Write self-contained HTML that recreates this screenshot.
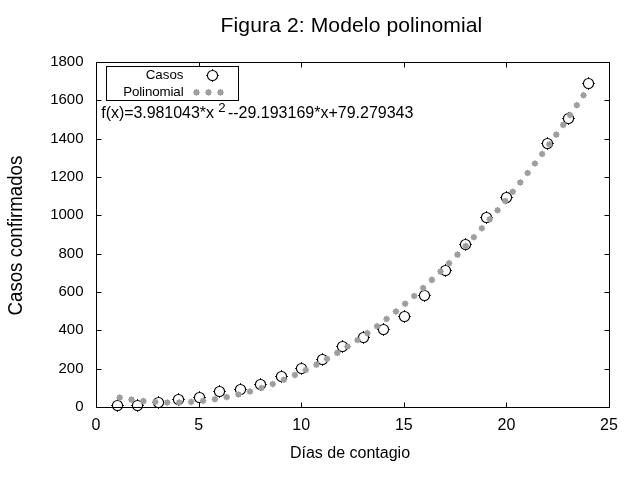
<!DOCTYPE html><html><head><meta charset="utf-8"><title>Figura 2: Modelo polinomial</title><style>html,body{margin:0;padding:0;background:#fff}svg{display:block}text{font-family:"Liberation Sans",Arial,sans-serif;fill:#000}</style></head><body>
<svg width="640" height="480" viewBox="0 0 640 480">
<rect width="640" height="480" fill="#fff"/>
<text x="351.5" y="31.7" font-size="21.1" letter-spacing="0.1" text-anchor="middle">Figura 2: Modelo polinomial</text>
<text x="83.5" y="410.90" font-size="15" text-anchor="end">0</text>
<text x="83.5" y="372.57" font-size="15" text-anchor="end">200</text>
<text x="83.5" y="334.23" font-size="15" text-anchor="end">400</text>
<text x="83.5" y="295.90" font-size="15" text-anchor="end">600</text>
<text x="83.5" y="257.57" font-size="15" text-anchor="end">800</text>
<text x="83.5" y="219.23" font-size="15" text-anchor="end">1000</text>
<text x="83.5" y="180.90" font-size="15" text-anchor="end">1200</text>
<text x="83.5" y="142.57" font-size="15" text-anchor="end">1400</text>
<text x="83.5" y="104.23" font-size="15" text-anchor="end">1600</text>
<text x="83.5" y="65.90" font-size="15" text-anchor="end">1800</text>
<text x="96.00" y="429.8" font-size="16" text-anchor="middle">0</text>
<text x="198.60" y="429.8" font-size="16" text-anchor="middle">5</text>
<text x="301.20" y="429.8" font-size="16" text-anchor="middle">10</text>
<text x="403.80" y="429.8" font-size="16" text-anchor="middle">15</text>
<text x="506.40" y="429.8" font-size="16" text-anchor="middle">20</text>
<text x="609.00" y="429.8" font-size="16" text-anchor="middle">25</text>
<path d="M96.5 407.5h5M609.5 407.5h-5M96.5 369.5h5M609.5 369.5h-5M96.5 330.5h5M609.5 330.5h-5M96.5 292.5h5M609.5 292.5h-5M96.5 254.5h5M609.5 254.5h-5M96.5 215.5h5M609.5 215.5h-5M96.5 177.5h5M609.5 177.5h-5M96.5 139.5h5M609.5 139.5h-5M96.5 100.5h5M609.5 100.5h-5M96.5 62.5h5M609.5 62.5h-5M96.5 407.5v-5M96.5 62.5v5M199.5 407.5v-5M199.5 62.5v5M301.5 407.5v-5M301.5 62.5v5M404.5 407.5v-5M404.5 62.5v5M506.5 407.5v-5M506.5 62.5v5M609.5 407.5v-5M609.5 62.5v5" stroke="#000" stroke-width="1" fill="none"/>
<rect x="96.5" y="62.5" width="513.0" height="345.0" fill="none" stroke="#000" stroke-width="1"/>
<rect x="106.5" y="66.5" width="132" height="34" fill="#fff" stroke="#000" stroke-width="1"/>
<text x="183.5" y="78.6" font-size="13.33" text-anchor="end">Casos</text>
<text x="183.5" y="95.6" font-size="13.33" letter-spacing="-0.12" text-anchor="end">Polinomial</text>
<g fill="none" stroke="#000" stroke-width="1.1"><circle cx="117.50" cy="405.50" r="5.05"/><path stroke-width="1" d="M111.15 405.50h1.3M122.55 405.50h1.3M117.50 399.15v1.3M117.50 410.55v1.3"/><circle cx="137.50" cy="405.50" r="5.05"/><path stroke-width="1" d="M131.15 405.50h1.3M142.55 405.50h1.3M137.50 399.15v1.3M137.50 410.55v1.3"/><circle cx="158.50" cy="402.50" r="5.05"/><path stroke-width="1" d="M152.15 402.50h1.3M163.55 402.50h1.3M158.50 396.15v1.3M158.50 407.55v1.3"/><circle cx="178.50" cy="399.50" r="5.05"/><path stroke-width="1" d="M172.15 399.50h1.3M183.55 399.50h1.3M178.50 393.15v1.3M178.50 404.55v1.3"/><circle cx="199.50" cy="397.50" r="5.05"/><path stroke-width="1" d="M193.15 397.50h1.3M204.55 397.50h1.3M199.50 391.15v1.3M199.50 402.55v1.3"/><circle cx="219.50" cy="391.50" r="5.05"/><path stroke-width="1" d="M213.15 391.50h1.3M224.55 391.50h1.3M219.50 385.15v1.3M219.50 396.55v1.3"/><circle cx="240.50" cy="389.50" r="5.05"/><path stroke-width="1" d="M234.15 389.50h1.3M245.55 389.50h1.3M240.50 383.15v1.3M240.50 394.55v1.3"/><circle cx="260.50" cy="384.50" r="5.05"/><path stroke-width="1" d="M254.15 384.50h1.3M265.55 384.50h1.3M260.50 378.15v1.3M260.50 389.55v1.3"/><circle cx="281.50" cy="376.50" r="5.05"/><path stroke-width="1" d="M275.15 376.50h1.3M286.55 376.50h1.3M281.50 370.15v1.3M281.50 381.55v1.3"/><circle cx="301.50" cy="368.50" r="5.05"/><path stroke-width="1" d="M295.15 368.50h1.3M306.55 368.50h1.3M301.50 362.15v1.3M301.50 373.55v1.3"/><circle cx="322.50" cy="359.50" r="5.05"/><path stroke-width="1" d="M316.15 359.50h1.3M327.55 359.50h1.3M322.50 353.15v1.3M322.50 364.55v1.3"/><circle cx="342.50" cy="346.50" r="5.05"/><path stroke-width="1" d="M336.15 346.50h1.3M347.55 346.50h1.3M342.50 340.15v1.3M342.50 351.55v1.3"/><circle cx="363.50" cy="337.50" r="5.05"/><path stroke-width="1" d="M357.15 337.50h1.3M368.55 337.50h1.3M363.50 331.15v1.3M363.50 342.55v1.3"/><circle cx="383.50" cy="329.50" r="5.05"/><path stroke-width="1" d="M377.15 329.50h1.3M388.55 329.50h1.3M383.50 323.15v1.3M383.50 334.55v1.3"/><circle cx="404.50" cy="316.50" r="5.05"/><path stroke-width="1" d="M398.15 316.50h1.3M409.55 316.50h1.3M404.50 310.15v1.3M404.50 321.55v1.3"/><circle cx="424.50" cy="295.50" r="5.05"/><path stroke-width="1" d="M418.15 295.50h1.3M429.55 295.50h1.3M424.50 289.15v1.3M424.50 300.55v1.3"/><circle cx="445.50" cy="270.50" r="5.05"/><path stroke-width="1" d="M439.15 270.50h1.3M450.55 270.50h1.3M445.50 264.15v1.3M445.50 275.55v1.3"/><circle cx="465.50" cy="244.50" r="5.05"/><path stroke-width="1" d="M459.15 244.50h1.3M470.55 244.50h1.3M465.50 238.15v1.3M465.50 249.55v1.3"/><circle cx="486.50" cy="217.50" r="5.05"/><path stroke-width="1" d="M480.15 217.50h1.3M491.55 217.50h1.3M486.50 211.15v1.3M486.50 222.55v1.3"/><circle cx="506.50" cy="197.50" r="5.05"/><path stroke-width="1" d="M500.15 197.50h1.3M511.55 197.50h1.3M506.50 191.15v1.3M506.50 202.55v1.3"/><circle cx="547.50" cy="143.50" r="5.05"/><path stroke-width="1" d="M541.15 143.50h1.3M552.55 143.50h1.3M547.50 137.15v1.3M547.50 148.55v1.3"/><circle cx="568.50" cy="118.50" r="5.05"/><path stroke-width="1" d="M562.15 118.50h1.3M573.55 118.50h1.3M568.50 112.15v1.3M568.50 123.55v1.3"/><circle cx="588.50" cy="83.50" r="5.05"/><path stroke-width="1" d="M582.15 83.50h1.3M593.55 83.50h1.3M588.50 77.15v1.3M588.50 88.55v1.3"/><circle cx="212.50" cy="75.50" r="5.05"/><path stroke-width="1" d="M206.15 75.50h1.3M217.55 75.50h1.3M212.50 69.15v1.3M212.50 80.55v1.3"/></g>
<g fill="#9e9e9e"><polygon points="123.27,397.65 122.21,398.70 122.22,400.20 120.72,400.19 119.67,401.25 118.62,400.19 117.13,400.20 117.13,398.70 116.07,397.65 117.13,396.60 117.13,395.10 118.62,395.11 119.67,394.05 120.72,395.11 122.22,395.10 122.21,396.60"/><polygon points="135.08,399.63 134.02,400.68 134.02,402.17 132.53,402.17 131.48,403.23 130.42,402.17 128.93,402.17 128.94,400.68 127.88,399.63 128.94,398.57 128.93,397.08 130.42,397.08 131.48,396.03 132.53,397.08 134.02,397.08 134.02,398.57"/><polygon points="146.95,401.10 145.89,402.15 145.90,403.65 144.41,403.64 143.35,404.70 142.30,403.64 140.81,403.65 140.81,402.15 139.75,401.10 140.81,400.05 140.81,398.56 142.30,398.56 143.35,397.50 144.41,398.56 145.90,398.56 145.89,400.05"/><polygon points="158.88,402.07 157.82,403.12 157.83,404.62 156.34,404.61 155.28,405.67 154.23,404.61 152.74,404.62 152.74,403.12 151.68,402.07 152.74,401.02 152.74,399.53 154.23,399.53 155.28,398.47 156.34,399.53 157.83,399.53 157.82,401.02"/><polygon points="170.84,402.53 169.78,403.58 169.79,405.07 168.30,405.07 167.24,406.13 166.19,405.07 164.70,405.07 164.70,403.58 163.64,402.53 164.70,401.47 164.70,399.98 166.19,399.99 167.24,398.93 168.30,399.99 169.79,399.98 169.78,401.47"/><polygon points="182.81,402.46 181.75,403.51 181.76,405.01 180.26,405.00 179.21,406.06 178.16,405.00 176.67,405.01 176.67,403.51 175.61,402.46 176.67,401.41 176.67,399.92 178.16,399.92 179.21,398.86 180.26,399.92 181.76,399.92 181.75,401.41"/><polygon points="194.77,401.88 193.71,402.93 193.71,404.42 192.22,404.42 191.17,405.48 190.12,404.42 188.62,404.42 188.63,402.93 187.57,401.88 188.63,400.83 188.62,399.33 190.12,399.34 191.17,398.28 192.22,399.34 193.71,399.33 193.71,400.83"/><polygon points="206.69,400.78 205.63,401.83 205.63,403.33 204.14,403.32 203.09,404.38 202.03,403.32 200.54,403.33 200.55,401.83 199.49,400.78 200.55,399.73 200.54,398.24 202.03,398.24 203.09,397.18 204.14,398.24 205.63,398.24 205.63,399.73"/><polygon points="218.55,399.18 217.49,400.23 217.49,401.72 216.00,401.72 214.95,402.78 213.90,401.72 212.40,401.72 212.41,400.23 211.35,399.18 212.41,398.13 212.40,396.63 213.90,396.64 214.95,395.58 216.00,396.64 217.49,396.63 217.49,398.13"/><polygon points="230.33,397.08 229.27,398.13 229.28,399.63 227.78,399.62 226.73,400.68 225.68,399.62 224.19,399.63 224.19,398.13 223.13,397.08 224.19,396.03 224.19,394.54 225.68,394.54 226.73,393.48 227.78,394.54 229.28,394.54 229.27,396.03"/><polygon points="242.02,394.50 240.96,395.56 240.97,397.05 239.47,397.05 238.42,398.10 237.37,397.05 235.87,397.05 235.88,395.56 234.82,394.50 235.88,393.45 235.87,391.96 237.37,391.96 238.42,390.90 239.47,391.96 240.97,391.96 240.96,393.45"/><polygon points="253.60,391.46 252.54,392.52 252.54,394.01 251.05,394.00 250.00,395.06 248.94,394.00 247.45,394.01 247.46,392.52 246.40,391.46 247.46,390.41 247.45,388.92 248.94,388.92 250.00,387.86 251.05,388.92 252.54,388.92 252.54,390.41"/><polygon points="265.05,387.98 263.99,389.03 263.99,390.52 262.50,390.52 261.45,391.58 260.39,390.52 258.90,390.52 258.91,389.03 257.85,387.98 258.91,386.93 258.90,385.43 260.39,385.44 261.45,384.38 262.50,385.44 263.99,385.43 263.99,386.93"/><polygon points="276.36,384.07 275.30,385.12 275.31,386.61 273.81,386.61 272.76,387.67 271.71,386.61 270.21,386.61 270.22,385.12 269.16,384.07 270.22,383.02 270.21,381.52 271.71,381.53 272.76,380.47 273.81,381.53 275.31,381.52 275.30,383.02"/><polygon points="287.52,379.75 286.47,380.81 286.47,382.30 284.98,382.30 283.92,383.35 282.87,382.30 281.38,382.30 281.38,380.81 280.32,379.75 281.38,378.70 281.38,377.21 282.87,377.21 283.92,376.15 284.98,377.21 286.47,377.21 286.47,378.70"/><polygon points="298.53,375.06 297.48,376.11 297.48,377.60 295.99,377.60 294.93,378.66 293.88,377.60 292.39,377.60 292.39,376.11 291.33,375.06 292.39,374.01 292.39,372.51 293.88,372.52 294.93,371.46 295.99,372.52 297.48,372.51 297.48,374.01"/><polygon points="309.38,370.00 308.32,371.05 308.33,372.55 306.84,372.54 305.78,373.60 304.73,372.54 303.24,372.55 303.24,371.05 302.18,370.00 303.24,368.95 303.24,367.46 304.73,367.46 305.78,366.40 306.84,367.46 308.33,367.46 308.32,368.95"/><polygon points="320.07,364.60 319.01,365.66 319.01,367.15 317.52,367.15 316.47,368.20 315.41,367.15 313.92,367.15 313.93,365.66 312.87,364.60 313.93,363.55 313.92,362.06 315.41,362.06 316.47,361.00 317.52,362.06 319.01,362.06 319.01,363.55"/><polygon points="330.58,358.89 329.52,359.94 329.53,361.43 328.04,361.43 326.98,362.49 325.93,361.43 324.44,361.43 324.44,359.94 323.38,358.89 324.44,357.84 324.44,356.34 325.93,356.35 326.98,355.29 328.04,356.35 329.53,356.34 329.52,357.84"/><polygon points="340.93,352.87 339.87,353.92 339.88,355.42 338.38,355.41 337.33,356.47 336.28,355.41 334.79,355.42 334.79,353.92 333.73,352.87 334.79,351.82 334.79,350.33 336.28,350.33 337.33,349.27 338.38,350.33 339.88,350.33 339.87,351.82"/><polygon points="351.11,346.57 350.05,347.63 350.06,349.12 348.56,349.12 347.51,350.17 346.46,349.12 344.96,349.12 344.97,347.63 343.91,346.57 344.97,345.52 344.96,344.03 346.46,344.03 347.51,342.97 348.56,344.03 350.06,344.03 350.05,345.52"/><polygon points="361.12,340.01 360.06,341.07 360.07,342.56 358.57,342.56 357.52,343.61 356.47,342.56 354.98,342.56 354.98,341.07 353.92,340.01 354.98,338.96 354.98,337.47 356.47,337.47 357.52,336.41 358.57,337.47 360.07,337.47 360.06,338.96"/><polygon points="370.97,333.21 369.91,334.26 369.91,335.75 368.42,335.75 367.37,336.81 366.32,335.75 364.82,335.75 364.83,334.26 363.77,333.21 364.83,332.16 364.82,330.66 366.32,330.67 367.37,329.61 368.42,330.67 369.91,330.66 369.91,332.16"/><polygon points="380.65,326.17 379.59,327.23 379.60,328.72 378.10,328.71 377.05,329.77 376.00,328.71 374.51,328.72 374.51,327.23 373.45,326.17 374.51,325.12 374.51,323.63 376.00,323.63 377.05,322.57 378.10,323.63 379.60,323.63 379.59,325.12"/><polygon points="390.18,318.92 389.12,319.97 389.12,321.47 387.63,321.46 386.58,322.52 385.52,321.46 384.03,321.47 384.04,319.97 382.98,318.92 384.04,317.87 384.03,316.38 385.52,316.38 386.58,315.32 387.63,316.38 389.12,316.38 389.12,317.87"/><polygon points="399.54,311.47 398.48,312.52 398.49,314.02 397.00,314.01 395.94,315.07 394.89,314.01 393.40,314.02 393.40,312.52 392.34,311.47 393.40,310.42 393.40,308.92 394.89,308.93 395.94,307.87 397.00,308.93 398.49,308.92 398.48,310.42"/><polygon points="408.76,303.83 407.70,304.88 407.70,306.37 406.21,306.37 405.16,307.43 404.10,306.37 402.61,306.37 402.62,304.88 401.56,303.83 402.62,302.78 402.61,301.28 404.10,301.29 405.16,300.23 406.21,301.29 407.70,301.28 407.70,302.78"/><polygon points="417.82,296.01 416.76,297.06 416.77,298.56 415.27,298.55 414.22,299.61 413.17,298.55 411.68,298.56 411.68,297.06 410.62,296.01 411.68,294.96 411.68,293.47 413.17,293.47 414.22,292.41 415.27,293.47 416.77,293.47 416.76,294.96"/><polygon points="426.74,288.03 425.68,289.08 425.69,290.57 424.19,290.57 423.14,291.63 422.09,290.57 420.60,290.57 420.60,289.08 419.54,288.03 420.60,286.98 420.60,285.48 422.09,285.49 423.14,284.43 424.19,285.49 425.69,285.48 425.68,286.98"/><polygon points="435.52,279.89 434.46,280.94 434.46,282.44 432.97,282.43 431.92,283.49 430.87,282.43 429.37,282.44 429.38,280.94 428.32,279.89 429.38,278.84 429.37,277.35 430.87,277.35 431.92,276.29 432.97,277.35 434.46,277.35 434.46,278.84"/><polygon points="444.16,271.61 443.10,272.66 443.11,274.15 441.61,274.15 440.56,275.21 439.51,274.15 438.01,274.15 438.02,272.66 436.96,271.61 438.02,270.56 438.01,269.06 439.51,269.07 440.56,268.01 441.61,269.07 443.11,269.06 443.10,270.56"/><polygon points="452.67,263.19 451.61,264.24 451.61,265.73 450.12,265.73 449.07,266.79 448.01,265.73 446.52,265.73 446.53,264.24 445.47,263.19 446.53,262.14 446.52,260.64 448.01,260.65 449.07,259.59 450.12,260.65 451.61,260.64 451.61,262.14"/><polygon points="461.05,254.64 459.99,255.69 459.99,257.19 458.50,257.18 457.45,258.24 456.39,257.18 454.90,257.19 454.91,255.69 453.85,254.64 454.91,253.59 454.90,252.09 456.39,252.10 457.45,251.04 458.50,252.10 459.99,252.09 459.99,253.59"/><polygon points="469.30,245.97 468.24,247.02 468.24,248.52 466.75,248.51 465.70,249.57 464.65,248.51 463.15,248.52 463.16,247.02 462.10,245.97 463.16,244.92 463.15,243.42 464.65,243.43 465.70,242.37 466.75,243.43 468.24,243.42 468.24,244.92"/><polygon points="477.43,237.19 476.37,238.24 476.38,239.73 474.88,239.73 473.83,240.79 472.78,239.73 471.29,239.73 471.29,238.24 470.23,237.19 471.29,236.13 471.29,234.64 472.78,234.65 473.83,233.59 474.88,234.65 476.38,234.64 476.37,236.13"/><polygon points="485.45,228.30 484.39,229.35 484.39,230.84 482.90,230.84 481.85,231.90 480.79,230.84 479.30,230.84 479.30,229.35 478.25,228.30 479.30,227.24 479.30,225.75 480.79,225.75 481.85,224.70 482.90,225.75 484.39,225.75 484.39,227.24"/><polygon points="493.35,219.30 492.29,220.36 492.29,221.85 490.80,221.84 489.75,222.90 488.69,221.84 487.20,221.85 487.20,220.36 486.15,219.30 487.20,218.25 487.20,216.76 488.69,216.76 489.75,215.70 490.80,216.76 492.29,216.76 492.29,218.25"/><polygon points="501.14,210.21 500.08,211.27 500.08,212.76 498.59,212.76 497.54,213.81 496.48,212.76 494.99,212.76 494.99,211.27 493.94,210.21 494.99,209.16 494.99,207.67 496.48,207.67 497.54,206.61 498.59,207.67 500.08,207.67 500.08,209.16"/><polygon points="508.82,201.04 507.76,202.09 507.76,203.58 506.27,203.58 505.22,204.64 504.17,203.58 502.67,203.58 502.68,202.09 501.62,201.04 502.68,199.98 502.67,198.49 504.17,198.50 505.22,197.44 506.27,198.50 507.76,198.49 507.76,199.98"/><polygon points="516.40,191.77 515.34,192.82 515.34,194.32 513.85,194.31 512.80,195.37 511.75,194.31 510.25,194.32 510.26,192.82 509.20,191.77 510.26,190.72 510.25,189.23 511.75,189.23 512.80,188.17 513.85,189.23 515.34,189.23 515.34,190.72"/><polygon points="523.88,182.43 522.82,183.48 522.82,184.97 521.33,184.97 520.28,186.03 519.22,184.97 517.73,184.97 517.74,183.48 516.68,182.43 517.74,181.37 517.73,179.88 519.22,179.88 520.28,178.83 521.33,179.88 522.82,179.88 522.82,181.37"/><polygon points="531.26,173.00 530.20,174.05 530.20,175.55 528.71,175.54 527.66,176.60 526.61,175.54 525.11,175.55 525.12,174.05 524.06,173.00 525.12,171.95 525.11,170.46 526.61,170.46 527.66,169.40 528.71,170.46 530.20,170.46 530.20,171.95"/><polygon points="538.55,163.51 537.49,164.56 537.49,166.05 536.00,166.05 534.95,167.11 533.89,166.05 532.40,166.05 532.40,164.56 531.35,163.51 532.40,162.45 532.40,160.96 533.89,160.97 534.95,159.91 536.00,160.97 537.49,160.96 537.49,162.45"/><polygon points="545.74,153.94 544.68,154.99 544.69,156.49 543.19,156.48 542.14,157.54 541.09,156.48 539.60,156.49 539.60,154.99 538.54,153.94 539.60,152.89 539.60,151.39 541.09,151.40 542.14,150.34 543.19,151.40 544.69,151.39 544.68,152.89"/><polygon points="552.85,144.31 551.79,145.36 551.79,146.85 550.30,146.85 549.25,147.91 548.20,146.85 546.70,146.85 546.71,145.36 545.65,144.31 546.71,143.26 546.70,141.76 548.20,141.77 549.25,140.71 550.30,141.77 551.79,141.76 551.79,143.26"/><polygon points="559.87,134.61 558.81,135.67 558.81,137.16 557.32,137.15 556.27,138.21 555.22,137.15 553.72,137.16 553.73,135.67 552.67,134.61 553.73,133.56 553.72,132.07 555.22,132.07 556.27,131.01 557.32,132.07 558.81,132.07 558.81,133.56"/><polygon points="566.81,124.86 565.75,125.91 565.75,127.40 564.26,127.40 563.21,128.46 562.15,127.40 560.66,127.40 560.66,125.91 559.61,124.86 560.66,123.81 560.66,122.31 562.15,122.32 563.21,121.26 564.26,122.32 565.75,122.31 565.75,123.81"/><polygon points="573.66,115.05 572.60,116.10 572.61,117.59 571.11,117.59 570.06,118.65 569.01,117.59 567.52,117.59 567.52,116.10 566.46,115.05 567.52,113.99 567.52,112.50 569.01,112.51 570.06,111.45 571.11,112.51 572.61,112.50 572.60,113.99"/><polygon points="580.44,105.18 579.38,106.23 579.38,107.73 577.89,107.72 576.84,108.78 575.79,107.72 574.29,107.73 574.30,106.23 573.24,105.18 574.30,104.13 574.29,102.63 575.79,102.64 576.84,101.58 577.89,102.64 579.38,102.63 579.38,104.13"/><polygon points="587.14,95.26 586.08,96.31 586.08,97.81 584.59,97.80 583.54,98.86 582.49,97.80 580.99,97.81 581.00,96.31 579.94,95.26 581.00,94.21 580.99,92.72 582.49,92.72 583.54,91.66 584.59,92.72 586.08,92.72 586.08,94.21"/><polygon points="200.05,92.40 198.99,93.45 199.00,94.95 197.50,94.94 196.45,96.00 195.40,94.94 193.90,94.95 193.91,93.45 192.85,92.40 193.91,91.35 193.90,89.85 195.40,89.86 196.45,88.80 197.50,89.86 199.00,89.85 198.99,91.35"/><polygon points="212.05,92.40 210.99,93.45 211.00,94.95 209.50,94.94 208.45,96.00 207.40,94.94 205.90,94.95 205.91,93.45 204.85,92.40 205.91,91.35 205.90,89.85 207.40,89.86 208.45,88.80 209.50,89.86 211.00,89.85 210.99,91.35"/><polygon points="224.05,92.40 222.99,93.45 223.00,94.95 221.50,94.94 220.45,96.00 219.40,94.94 217.90,94.95 217.91,93.45 216.85,92.40 217.91,91.35 217.90,89.85 219.40,89.86 220.45,88.80 221.50,89.86 223.00,89.85 222.99,91.35"/></g>
<text x="101.3" y="118" font-size="16" textLength="112.6" lengthAdjust="spacing">f(x)=3.981043*x</text>
<text x="218.3" y="111.9" font-size="13.2">2</text>
<text x="227.9" y="118" font-size="16">--29.193169*x+79.279343</text>
<text x="350" y="457.5" font-size="16" text-anchor="middle">Días de contagio</text>
<text transform="translate(22.2,235.6) rotate(-90) scale(1,1.06)" font-size="18.67" text-anchor="middle">Casos confirmados</text>
</svg></body></html>
